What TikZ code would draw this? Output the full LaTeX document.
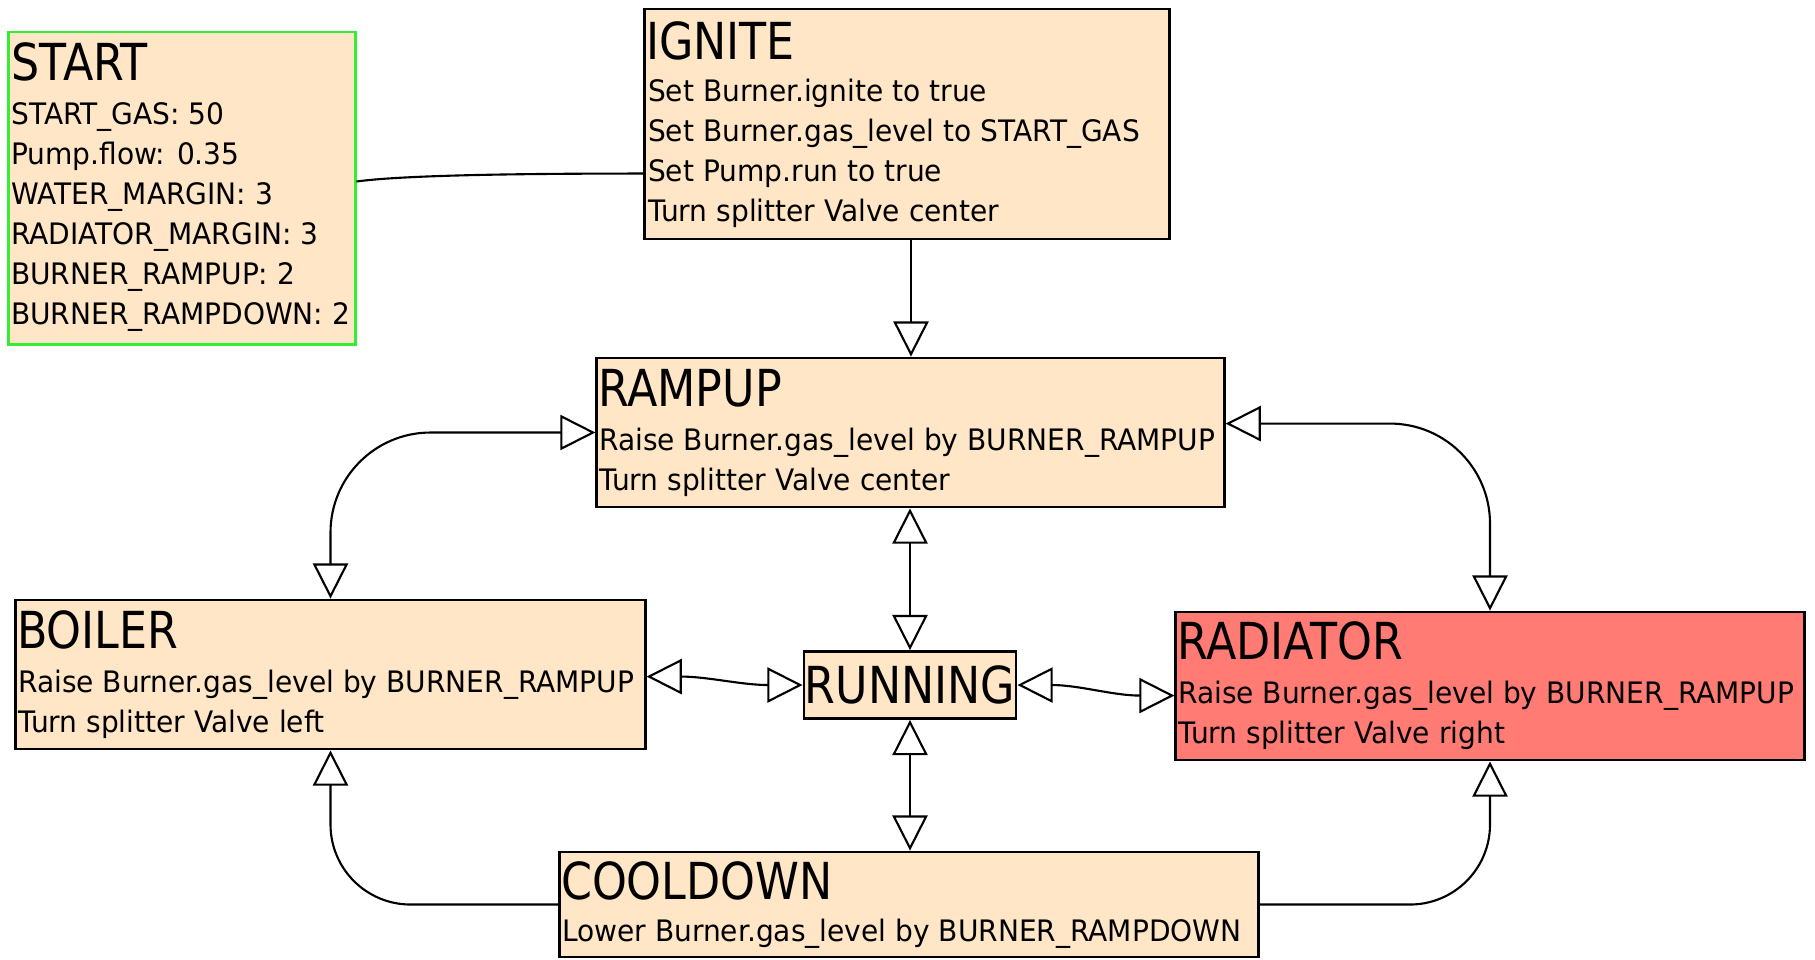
\documentclass[tikz,border=0pt]{standalone}
\usepackage{fontspec}
\setmainfont[FakeStretch=0.95]{DejaVu Sans}
\newfontfamily\titlefont[FakeStretch=0.87]{DejaVu Sans}
\usetikzlibrary{arrows.meta, positioning, calc}

\definecolor{boxfill}{HTML}{FFE6C6}
\definecolor{hotfill}{HTML}{FF7B74}
\definecolor{startline}{HTML}{33EE33}

\begin{document}
\begin{tikzpicture}[
    x=0.01cm, y=-0.01cm,
    >={Triangle[open, length=10pt, width=10pt]},
    state/.style={rectangle, draw, thick, fill=boxfill, inner sep=0pt},
    title/.style={anchor=base west, inner sep=0pt, font=\titlefont\fontsize{14.5}{16}\selectfont},
    body/.style={anchor=base west, inner sep=0pt, align=left, font=\fontsize{8.4}{11.38}\selectfont},
    edge/.style={semithick}
]
    \useasboundingbox (0,0) rectangle (1815,959);

    \node[state, draw=startline, minimum width=3.46cm, minimum height=3.12cm] (start) at (182,188) {};
    \node[state, minimum width=5.24cm, minimum height=2.30cm] (ignite) at (907,124) {};
    \node[state, minimum width=6.27cm, minimum height=1.49cm] (rampup) at (910.5,432.5) {};
    \node[state, minimum width=6.29cm, minimum height=1.49cm] (boiler) at (330.5,674.5) {};
    \node[state, minimum width=2.12cm, minimum height=0.67cm, font=\titlefont\fontsize{14.5}{16}\selectfont] (running) at (910,685) {RUNNING};
    \node[state, fill=hotfill, minimum width=6.28cm, minimum height=1.48cm] (radiator) at (1490,686) {};
    \node[state, minimum width=6.98cm, minimum height=1.05cm] (cooldown) at (909,904.5) {};

    % body nodes sit on the baseline of their last line
    \node[title] (start-t) at ($(start.north west)+(3,50)$) {START};
    \node[body] (start-b) at ($(start.north west)+(3,294)$) {START\_GAS: 50\\Pump.flow: 0.35\\WATER\_MARGIN: 3\\RADIATOR\_MARGIN: 3\\BURNER\_RAMPUP: 2\\BURNER\_RAMPDOWN: 2};

    \node[title] (ignite-t) at ($(ignite.north west)+(2,52)$) {IGNITE};
    \node[body] (ignite-b) at ($(ignite.north west)+(4,214)$) {Set Burner.ignite to true\\Set Burner.gas\_level to START\_GAS\\Set Pump.run to true\\Turn splitter Valve center};

    \node[title] (rampup-t) at ($(rampup.north west)+(2,50)$) {RAMPUP};
    \node[body] (rampup-b) at ($(rampup.north west)+(3,134)$) {Raise Burner.gas\_level by BURNER\_RAMPUP\\Turn splitter Valve center};

    \node[title] (boiler-t) at ($(boiler.north west)+(2,50)$) {BOILER};
    \node[body] (boiler-b) at ($(boiler.north west)+(3,134)$) {Raise Burner.gas\_level by BURNER\_RAMPUP\\Turn splitter Valve left};

    \node[title] (radiator-t) at ($(radiator.north west)+(2,49)$) {RADIATOR};
    \node[body] (radiator-b) at ($(radiator.north west)+(3,133)$) {Raise Burner.gas\_level by BURNER\_RAMPUP\\Turn splitter Valve right};

    \node[title] (cooldown-t) at ($(cooldown.north west)+(2,49)$) {COOLDOWN};
    \node[body] (cooldown-b) at ($(cooldown.north west)+(3,91)$) {Lower Burner.gas\_level by BURNER\_RAMPDOWN};

    \draw[edge] ($(start.north east)+(0,151)$) .. controls +(50,-7) and +(-100,0) .. ($(ignite.north west)+(0,166)$);
    \draw[edge, ->] ($(ignite.south)+(4,0)$) -- ($(ignite.south |- rampup.north)+(4,0)$);

    \draw[edge, <->] (running.north |- rampup.south) -- (running.north);
    \draw[edge, <->] (running.south) -- (running.south |- cooldown.north);
    \draw[edge, <->] ($(boiler.north east)+(0,78)$) to[out=0, in=180] (running.west);
    \draw[edge, <->] (running.east) to[out=0, in=180] ($(radiator.north west)+(0,85)$);

    \draw[edge, <->, rounded corners=1cm] (rampup.west) -| (boiler.north);
    \draw[edge, <->, rounded corners=1cm] ($(rampup.north east)+(0,67)$) -| (radiator.north);
    \draw[edge, ->, rounded corners=0.8cm] (cooldown.west) -| (boiler.south);
    \draw[edge, ->, rounded corners=0.8cm] (cooldown.east) -| (radiator.south);
\end{tikzpicture}
\end{document}
